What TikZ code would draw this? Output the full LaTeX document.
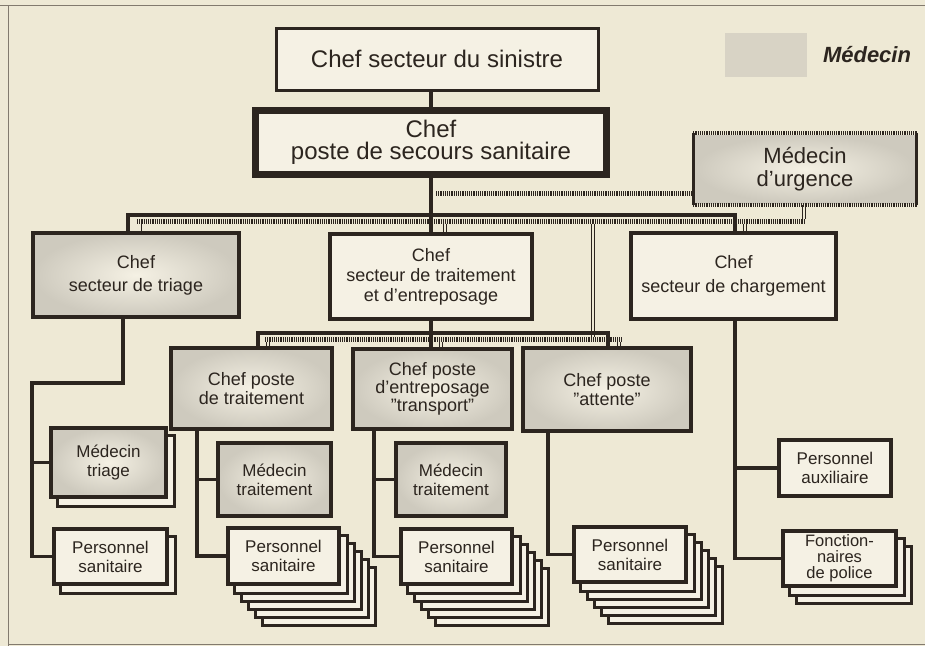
\documentclass[tikz,border=0pt]{standalone}
\usepackage{fontspec}
\setmainfont{Liberation Sans}
\usetikzlibrary{calc,backgrounds}
\definecolor{bgc}{RGB}{238,233,213}
\definecolor{boxc}{RGB}{245,241,228}
\definecolor{shadec}{RGB}{206,202,190}
\definecolor{ink}{RGB}{44,37,31}
\definecolor{framec}{RGB}{130,122,110}
\newcommand\stackbehind[5]{%
  \foreach \k in {#5,...,1}{%
    \draw[stackc] ({#1+7*\k},{#2+8*\k}) rectangle ({#3+7*\k},{#4+8*\k});}}
\begin{document}
\begin{tikzpicture}[x=1pt,y=-1pt,
  conn/.style={draw=ink,line width=3.5pt},
  hatch/.style={draw=ink,line width=5pt,dash pattern=on 1.1pt off 1.1pt},
  hdrop/.style={draw=ink,line width=0.8pt,double=bgc,double distance=2.4pt},
  boxbase/.style={draw=ink,line width=3.5pt,align=center,inner sep=0pt,text=ink},
  plainbox/.style={boxbase,fill=boxc},
  medbox/.style={boxbase,inner color=boxc,outer color=shadec},
  stackc/.style={draw=ink,line width=3pt,fill=boxc},
  bigf/.style={font=\fontsize{24}{22}\selectfont},
  midf/.style={font=\fontsize{18}{23}\selectfont},
  smallf/.style={font=\fontsize{17}{19}\selectfont}]
\useasboundingbox (0,0) rectangle (925,646);
\begin{scope}[on background layer]
  \fill[bgc] (0,0) rectangle (925,646);
\end{scope}
% frame
\draw[framec,line width=1pt] (0,5) -- (925,5);
\draw[framec,line width=1pt] (8,5) -- (8,646);
\draw[framec,line width=1pt] (8,644.5) -- (925,644.5);
% legend
\node[fill=shadec!70!bgc,minimum width=82pt,minimum height=44pt,inner sep=0pt] (swatch) at (766,55) {};
\node[text=ink,font=\fontsize{22}{24}\selectfont\bfseries\itshape] (legend) at (867,55) {Médecin};
% stacks
\stackbehind{53}{528}{168}{585}{1}
\stackbehind{50}{427}{167}{498}{1}
\stackbehind{227}{527}{340}{585}{5}
\stackbehind{400}{528}{513}{585}{5}
\stackbehind{573}{526}{687}{583}{5}
\stackbehind{782}{530}{897}{587}{2}
% boxes
\node[plainbox,bigf,line width=3pt,minimum width=322pt,minimum height=62pt] (sinistre) at (437,59) {Chef secteur du sinistre};
\node[plainbox,bigf,line width=7pt,minimum width=351pt,minimum height=64pt] (secours) at (431,142.5) {Chef\\poste de secours sanitaire};
\node[boxbase,draw=none,inner color=boxc,outer color=shadec,font=\fontsize{22}{23}\selectfont,minimum width=220pt,minimum height=68pt] (urg) at (805,169) {Médecin\\d’urgence};
\node[medbox,midf,minimum width=206pt,minimum height=84pt] (triage) at (136,275) {Chef\\secteur de triage};
\node[plainbox,font=\fontsize{18}{20}\selectfont,minimum width=202pt,minimum height=85pt] (trait) at (431,276.5) {Chef\\secteur de traitement\\et d’entreposage};
\node[plainbox,font=\fontsize{18}{24}\selectfont,minimum width=205pt,minimum height=86pt] (charg) at (733.5,276) {Chef\\secteur de chargement};
\node[medbox,font=\fontsize{18}{18.5}\selectfont,minimum width=161pt,minimum height=81pt] (ptrait) at (251.5,388.5) {Chef poste\\de traitement};
\node[medbox,font=\fontsize{18}{18}\selectfont,minimum width=159pt,minimum height=80pt] (entre) at (432.5,389) {Chef poste\\d’entreposage\\”transport”};
\node[medbox,font=\fontsize{18}{18.5}\selectfont,minimum width=168pt,minimum height=83pt] (attente) at (607,389.5) {Chef poste\\”attente”};
\node[medbox,smallf,minimum width=115pt,minimum height=69pt] (medtri) at (108.5,462.5) {Médecin\\triage};
\node[medbox,smallf,minimum width=113pt,minimum height=73pt] (medtr1) at (274.5,479.5) {Médecin\\traitement};
\node[medbox,smallf,minimum width=110pt,minimum height=73pt] (medtr2) at (451,479.5) {Médecin\\traitement};
\node[plainbox,smallf,minimum width=113pt,minimum height=55pt] (pstri) at (110.5,556.5) {Personnel\\sanitaire};
\node[plainbox,smallf,minimum width=111pt,minimum height=56pt] (pstrait) at (283.5,556) {Personnel\\sanitaire};
\node[plainbox,smallf,minimum width=111pt,minimum height=55pt] (psentre) at (456.5,556.5) {Personnel\\sanitaire};
\node[plainbox,smallf,minimum width=112pt,minimum height=55pt] (psatt) at (630,554.5) {Personnel\\sanitaire};
\node[plainbox,smallf,minimum width=112pt,minimum height=56pt] (aux) at (835,468) {Personnel\\auxiliaire};
\node[plainbox,font=\fontsize{16.5}{16}\selectfont,minimum width=113pt,minimum height=55pt] (fonct) at (839.5,558.5) {Fonction-\\naires\\de police};
% urgence border
\draw[hatch,line width=4pt] (urg.north west) -- (urg.north east);
\draw[hatch,line width=4pt] (urg.south west) -- (urg.south east);
\draw[draw=ink,line width=3pt] (urg.north west) -- (urg.south west);
\draw[draw=ink,line width=3pt] (urg.north east) -- (urg.south east);
% connectors
\begin{scope}[on background layer]
  % hatched (medical) links
  \coordinate (h0) at (436,193);
  \draw[hatch] (h0) -- (h0 -| urg.west);
  \coordinate (hb1L) at (137,221); \coordinate (hb1R) at (804,221);
  \draw[hatch] (hb1L) -- (hb1R);
  \draw[hdrop] (urg.south -| hb1R) -- ($(hb1R)+(0,-2.5)$);
  \coordinate (d1) at (139.5,223.5); \draw[hdrop] (d1) -- (d1 |- triage.north);
  \coordinate (d2) at (445,223.5);   \draw[hdrop] (d2) -- (d2 |- trait.north);
  \coordinate (d3) at (745,223.5);   \draw[hdrop] (d3) -- (d3 |- charg.north);
  \coordinate (hv) at (593,223.5); \coordinate (hvb) at (593,336.5);
  \draw[hdrop] (hv) -- (hvb);
  \coordinate (hb2L) at (265,339); \coordinate (hb2R) at (622,339);
  \draw[hatch] (hb2L) -- (hb2R);
  \coordinate (e1) at (268,341.5); \draw[hdrop] (e1) -- (e1 |- ptrait.north);
  \coordinate (e2) at (441,341.5); \draw[hdrop] (e2) -- (e2 |- entre.north);
  \coordinate (e3) at (619,341.5); \draw[hdrop] (e3) -- (e3 |- attente.north);
  % hierarchy
  \draw[conn] (secours.north) -- (secours.north |- sinistre.south);
  \draw[conn] (secours.south) -- (trait.north);
  \coordinate (b1L) at (128,215); \coordinate (b1R) at (735,215);
  \draw[conn] (triage.north -| b1L) -- (b1L) -- (b1R) -- (charg.north -| b1R);
  \coordinate (trx) at (123,383); \coordinate (trc) at (32,383);
  \draw[conn] (triage.south -| trx) -- (trx) -- (trc) -- (trc |- pstri.west) -- (pstri.west);
  \draw[conn] (trc |- medtri.west) -- (medtri.west);
  \draw[conn] (trait.south) -- (trait.south |- entre.north);
  \coordinate (b2L) at (258,333); \coordinate (b2R) at (608,333);
  \draw[conn] (ptrait.north -| b2L) -- (b2L) -- (b2R) -- (attente.north -| b2R);
  \coordinate (ptx) at (197,0);
  \draw[conn] (ptrait.south -| ptx) -- (ptx |- pstrait.west) -- (pstrait.west);
  \draw[conn] (ptx |- medtr1.west) -- (medtr1.west);
  \coordinate (enx) at (374,0);
  \draw[conn] (entre.south -| enx) -- (enx |- psentre.west) -- (psentre.west);
  \draw[conn] (enx |- medtr2.west) -- (medtr2.west);
  \coordinate (atx) at (548,0);
  \draw[conn] (attente.south -| atx) -- (atx |- psatt.west) -- (psatt.west);
  \draw[conn] (charg.south -| b1R) -- (b1R |- fonct.west) -- (fonct.west);
  \draw[conn] (b1R |- aux.west) -- (aux.west);
\end{scope}
\end{tikzpicture}
\end{document}
